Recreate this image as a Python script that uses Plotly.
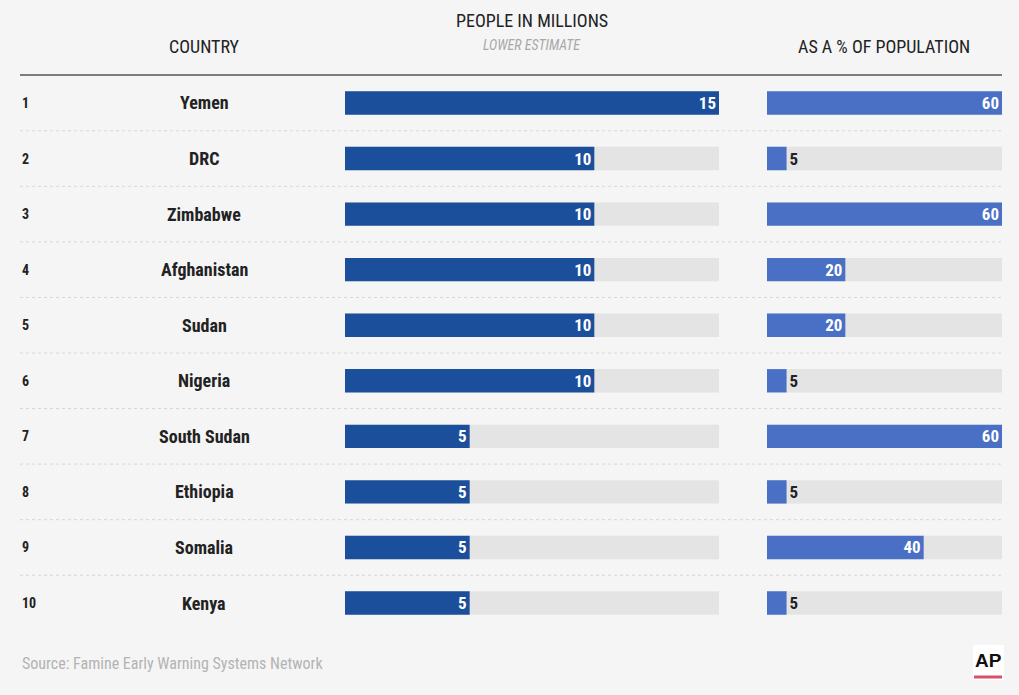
import plotly.graph_objects as go

ranks = ["1", "2", "3", "4", "5", "6", "7", "8", "9", "10"]
countries = ["Yemen", "DRC", "Zimbabwe", "Afghanistan", "Sudan", "Nigeria",
             "South Sudan", "Ethiopia", "Somalia", "Kenya"]
people_millions = [15, 10, 10, 10, 10, 10, 5, 5, 5, 5]
pct_population = [60, 5, 60, 20, 20, 5, 60, 5, 40, 5]
people_max = 15
pct_max = 60

W, H = 1019, 695
BG = "#f5f5f5"
DARK_BLUE = "#1b4f9c"
LIGHT_BLUE = "#4a70c6"
TRACK = "#e4e4e4"
FONT = "Roboto Condensed, Liberation Sans Narrow, DejaVu Sans Condensed, Arial Narrow, Roboto, sans-serif"

def px(x):
    return x / W

def py(y):
    return 1 - y / H

idx = list(range(len(countries)))
bw = 0.42

fig = go.Figure()

# gray tracks
fig.add_trace(go.Bar(x=[people_max] * len(idx), y=idx, orientation="h", width=bw,
                     marker=dict(color=TRACK, line=dict(width=0)),
                     xaxis="x", yaxis="y", hoverinfo="skip", showlegend=False))
fig.add_trace(go.Bar(x=[pct_max] * len(idx), y=idx, orientation="h", width=bw,
                     marker=dict(color=TRACK, line=dict(width=0)),
                     xaxis="x2", yaxis="y", hoverinfo="skip", showlegend=False))

# value bars
fig.add_trace(go.Bar(x=people_millions, y=idx, orientation="h", width=bw,
                     marker=dict(color=DARK_BLUE, line=dict(width=0)),
                     text=[str(v) for v in people_millions],
                     textposition="inside", insidetextanchor="end", textangle=0,
                     textfont=dict(family=FONT, size=17, color="white", weight="bold"),
                     xaxis="x", yaxis="y", showlegend=False, cliponaxis=False))

pct_pos = ["outside" if v < 10 else "inside" for v in pct_population]
fig.add_trace(go.Bar(x=pct_population, y=idx, orientation="h", width=bw,
                     marker=dict(color=LIGHT_BLUE, line=dict(width=0)),
                     text=[str(v) for v in pct_population],
                     textposition=pct_pos, insidetextanchor="end", textangle=0,
                     insidetextfont=dict(family=FONT, size=17, color="white", weight="bold"),
                     outsidetextfont=dict(family=FONT, size=17, color="#222222", weight="bold"),
                     xaxis="x2", yaxis="y", showlegend=False, cliponaxis=False))

y_top, y_bot = 75.2, 630.8
fig.update_layout(
    width=W, height=H,
    margin=dict(l=0, r=0, t=0, b=0),
    paper_bgcolor=BG, plot_bgcolor="rgba(0,0,0,0)",
    barmode="overlay",
    uniformtext=dict(minsize=17, mode="show"),
    xaxis=dict(domain=[px(345), px(719)], range=[0, people_max], visible=False, fixedrange=True),
    xaxis2=dict(domain=[px(767), px(1002)], range=[0, pct_max], visible=False, fixedrange=True,
                anchor="y"),
    yaxis=dict(domain=[py(y_bot), py(y_top)], range=[len(idx) - 0.5, -0.5], visible=False,
               fixedrange=True),
    font=dict(family=FONT),
)

annotations = []
for i in idx:
    annotations.append(dict(x=px(20), y=i, xref="paper", yref="y", text=ranks[i],
                            showarrow=False, xanchor="left", yanchor="middle",
                            font=dict(family=FONT, size=14, color="#222222", weight="bold")))
    annotations.append(dict(x=px(204), y=i, xref="paper", yref="y", text=countries[i],
                            showarrow=False, xanchor="center", yanchor="middle",
                            font=dict(family=FONT, size=18, color="#222222", weight="bold")))

annotations += [
    dict(x=px(204), y=py(47), xref="paper", yref="paper", text="COUNTRY", showarrow=False,
         xanchor="center", yanchor="middle", font=dict(family=FONT, size=18, color="#222222")),
    dict(x=px(532), y=py(21), xref="paper", yref="paper", text="PEOPLE IN MILLIONS", showarrow=False,
         xanchor="center", yanchor="middle", font=dict(family=FONT, size=18, color="#222222")),
    dict(x=px(532), y=py(45), xref="paper", yref="paper", text="<i>LOWER ESTIMATE</i>", showarrow=False,
         xanchor="center", yanchor="middle", font=dict(family=FONT, size=14, color="#a8a8a8")),
    dict(x=px(884), y=py(47), xref="paper", yref="paper", text="AS A % OF POPULATION", showarrow=False,
         xanchor="center", yanchor="middle", font=dict(family=FONT, size=18, color="#222222")),
    dict(x=px(20), y=py(663), xref="paper", yref="paper",
         text="Source: Famine Early Warning Systems Network", showarrow=False,
         xanchor="left", yanchor="middle", font=dict(family=FONT, size=16, color="#b3b3b3")),
    dict(x=px(988.5), y=py(660), xref="paper", yref="paper", text="<b>AP</b>", showarrow=False,
         xanchor="center", yanchor="middle", font=dict(family="Liberation Sans, Arial, sans-serif",
                                                       size=19, color="#111111")),
]

shapes = [
    dict(type="line", xref="paper", yref="paper", x0=px(20), x1=px(1002), y0=py(75), y1=py(75),
         line=dict(color="#555555", width=1.5)),
    dict(type="rect", xref="paper", yref="paper", x0=px(973), x1=px(1004), y0=py(680), y1=py(645),
         fillcolor="white", line=dict(width=0), layer="below"),
    dict(type="line", xref="paper", yref="paper", x0=px(974), x1=px(1002), y0=py(677), y1=py(677),
         line=dict(color="#d9506a", width=3)),
]
for i in idx[:-1]:
    shapes.append(dict(type="line", xref="paper", yref="y", x0=px(20), x1=px(1002),
                       y0=i + 0.5, y1=i + 0.5, line=dict(color="#d6d6d6", width=1, dash="dot")))

fig.update_layout(annotations=annotations, shapes=shapes)

fig.write_html("out.html")
